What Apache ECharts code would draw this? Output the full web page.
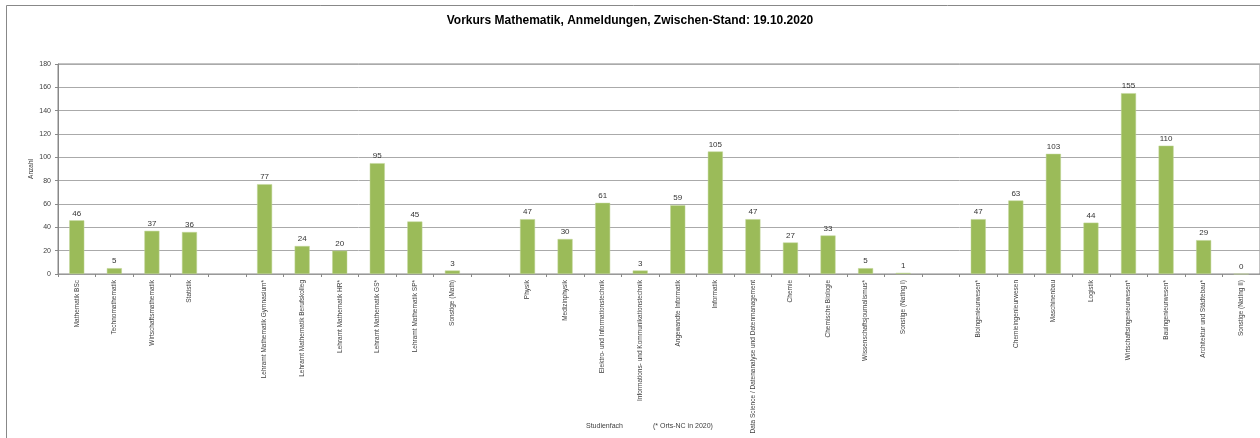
<!DOCTYPE html>
<html>
<head>
<meta charset="utf-8">
<script src="https://cdn.jsdelivr.net/npm/echarts@6/dist/echarts.min.js"></script>
<style>
html,body{margin:0;padding:0;background:#fff;}
#chart{width:1260px;height:438px;}
</style>
</head>
<body>
<div id="chart"></div>
<script>
const titleText = 'Vorkurs Mathematik, Anmeldungen, Zwischen-Stand: 19.10.2020';
const categories = [
  'Mathematik BSc', 'Technomathematik', 'Wirtschaftsmathematik', 'Statistik', '',
  'Lehramt Mathematik Gymnasium*', 'Lehramt Mathematik Berufskolleg', 'Lehramt Mathematik HR*',
  'Lehramt Mathematik GS*', 'Lehramt Mathematik SP*', 'Sonstige (Math)', '',
  'Physik', 'Medizinphysik', 'Elektro- und Informationstechnik',
  'Informations- und Kommunikationstechnik', 'Angewandte Informatik', 'Informatik',
  'Data Science / Datenanalyse und Datenmanagement', 'Chemie', 'Chemische Biologie',
  'Wissenschaftsjournalismus*', 'Sonstige (NatIng I)', '',
  'Bioingenieurwesen*', 'Chemieingenieurwesen', 'Maschinenbau', 'Logistik',
  'Wirtschaftsingenieurwesen*', 'Bauingenieurwesen*', 'Architektur und Städtebau*',
  'Sonstige (NatIng II)'
];
const values = [
  46, 5, 37, 36, null,
  77, 24, 20, 95, 45, 3, null,
  47, 30, 61, 3, 59, 105, 47, 27, 33, 5, 1, null,
  47, 63, 103, 44, 155, 110, 29, 0
];
const yMin = 0, yMax = 180, yStep = 20;
const yAxisName = 'Anzahl';
const xAxisName = 'Studienfach';
const noteText = '(* Orts-NC in 2020)';

const chart = echarts.init(document.getElementById('chart'), null, {renderer: 'canvas'});
const font = 'Liberation Sans, Arial, sans-serif';
chart.setOption({
  animation: false,
  backgroundColor: '#fff',
  title: {
    text: titleText, left: 'center', top: 10,
    textStyle: {fontFamily: font, fontSize: 12, fontWeight: 'bold', color: '#000'}
  },
  graphic: [
    {type: 'rect', shape: {x: 6.5, y: 5.5, width: 1300, height: 500},
     style: {fill: 'none', stroke: '#888', lineWidth: 1}, silent: true, z: -1},
    {type: 'text', left: 586, top: 423,
     style: {text: xAxisName, fontFamily: font, fontSize: 7, fill: '#404040'}},
    {type: 'text', left: 653, top: 423,
     style: {text: noteText, fontFamily: font, fontSize: 7, fill: '#404040'}}
  ],
  grid: {left: 58, top: 64, width: 1203, height: 210, show: true,
         borderColor: '#888', borderWidth: 1, backgroundColor: 'transparent'},
  xAxis: {
    type: 'category', data: categories,
    axisLine: {lineStyle: {color: '#999'}},
    axisTick: {show: true, length: 3, lineStyle: {color: '#888'}},
    axisLabel: {rotate: 90, interval: 0, fontFamily: font, fontSize: 6.5, color: '#404040', margin: 6}
  },
  yAxis: {
    type: 'value', min: yMin, max: yMax, interval: yStep,
    name: yAxisName, nameLocation: 'middle', nameGap: 23, nameRotate: 90,
    nameMoveOverlap: false,
    nameTextStyle: {fontFamily: font, fontSize: 6.5, color: '#404040'},
    axisLine: {show: true, lineStyle: {color: '#888'}},
    axisTick: {show: true, length: 3, lineStyle: {color: '#888'}},
    axisLabel: {fontFamily: font, fontSize: 7, color: '#404040', margin: 7},
    splitLine: {lineStyle: {color: '#aaaaaa', width: 1}}
  },
  series: [{
    type: 'bar', data: values, barWidth: '40%',
    itemStyle: {color: '#9bbb59', borderColor: '#c3d69b', borderWidth: 0.5},
    label: {show: true, position: 'top', distance: 3, fontFamily: font, fontSize: 8, color: '#333'}
  }]
});
</script>
</body>
</html>
